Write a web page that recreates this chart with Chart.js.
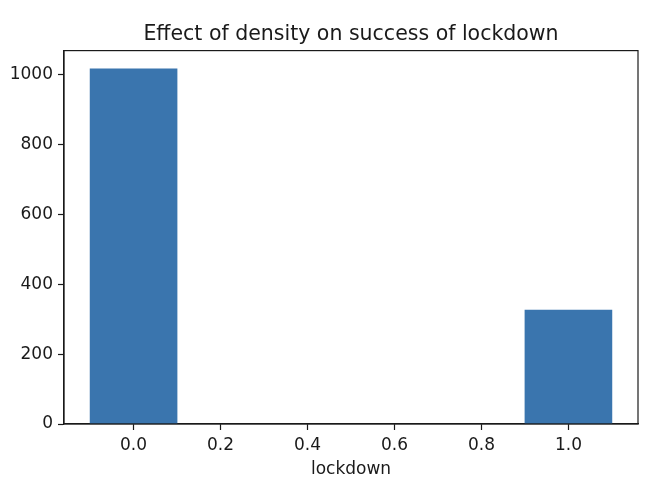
<!DOCTYPE html>
<html>
<head>
<meta charset="utf-8">
<script src="https://cdn.jsdelivr.net/npm/chart.js@4/dist/chart.umd.min.js"></script>
<style>
  html, body { margin: 0; padding: 0; background: #fff; }
  #wrap { width: 672px; height: 488px; }
</style>
</head>
<body>
<div id="wrap"><canvas id="chart"></canvas></div>
<script>
// data
const lockdown = [0, 1];
const counts = [1017, 326];
const xTicks = [0, 0.2, 0.4, 0.6, 0.8, 1.0];
const yTicks = [0, 200, 400, 600, 800, 1000];

const ink = '#1a1a1a';
const font = 'DejaVu Sans';

// matplotlib-like box round the plot
const frame = {
  id: 'frame',
  afterDraw(chart) {
    const a = chart.chartArea;
    const ctx = chart.ctx;
    ctx.save();
    ctx.strokeStyle = ink;
    ctx.lineWidth = 1.2;
    ctx.strokeRect(a.left, a.top, a.right - a.left, a.bottom - a.top);
    ctx.restore();
  }
};

new Chart(document.getElementById('chart'), {
  type: 'bar',
  data: {
    datasets: [{
      data: lockdown.map((x, i) => ({ x: x, y: counts[i] })),
      backgroundColor: '#3a75ae',
      borderWidth: 0,
      // bar width follows the 0.2 tick spacing
      barPercentage: 1.0,
      categoryPercentage: 1.0
    }]
  },
  options: {
    responsive: true,
    maintainAspectRatio: false,
    animation: false,
    layout: { padding: { left: 0, right: 34, top: 0, bottom: 0 } },
    plugins: {
      legend: { display: false },
      tooltip: { enabled: false },
      title: {
        display: true,
        text: 'Effect of density on success of lockdown',
        color: ink,
        fullSize: false,
        font: { family: font, size: 20.5, weight: 'normal' },
        padding: { top: 22, bottom: 4 }
      }
    },
    scales: {
      x: {
        type: 'linear',
        offset: false,
        min: -0.16,
        max: 1.16,
        afterBuildTicks: s => { s.ticks = xTicks.map(v => ({ value: v })); },
        afterFit: s => { s.height = 64; },
        ticks: {
          color: ink,
          font: { family: font, size: 17 },
          padding: 5,
          callback: v => v.toFixed(1)
        },
        grid: { offset: false, drawOnChartArea: false, tickLength: 6, color: ink, tickWidth: 1.2 },
        border: { color: ink, width: 1.2 },
        title: {
          display: true,
          text: 'lockdown',
          color: ink,
          font: { family: font, size: 17 },
          padding: { top: 2, bottom: 8 }
        }
      },
      y: {
        min: 0,
        max: 1069,
        afterBuildTicks: s => { s.ticks = yTicks.map(v => ({ value: v })); },
        afterFit: s => { s.width = 64; },
        ticks: {
          color: ink,
          font: { family: font, size: 17 },
          padding: 5,
          callback: v => String(v)
        },
        grid: { drawOnChartArea: false, tickLength: 6, color: ink, tickWidth: 1.2 },
        border: { color: ink, width: 1.2 }
      }
    }
  },
  plugins: [frame]
});
</script>
</body>
</html>
